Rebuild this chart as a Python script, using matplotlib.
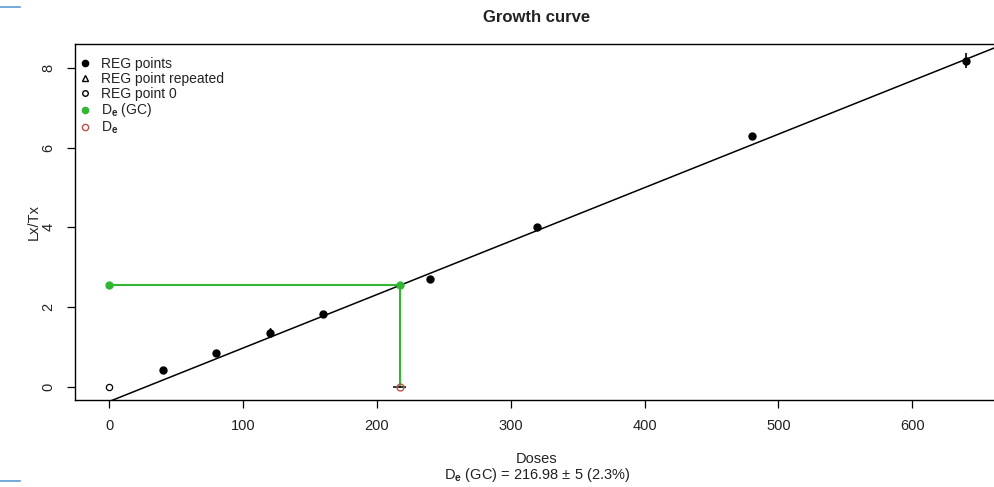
import matplotlib
matplotlib.use("Agg")
import matplotlib.pyplot as plt
from matplotlib.lines import Line2D
import numpy as np

plt.rcParams['font.family'] = ['Liberation Sans', 'DejaVu Sans']
plt.rcParams['mathtext.fontset'] = 'custom'
plt.rcParams['mathtext.rm'] = 'Liberation Sans'
plt.rcParams['mathtext.it'] = 'Liberation Sans:bold'
plt.rcParams['mathtext.bf'] = 'Liberation Sans:bold'

# Data
reg_dose = [40, 80, 120, 160, 240, 320, 480, 640]
reg_lxtx = [0.43, 0.86, 1.35, 1.83, 2.70, 4.00, 6.28, 8.18]
reg_err = [0.0, 0.0, 0.0, 0.0, 0.0, 0.0, 0.10, 0.19]
rep_dose = [120]
rep_lxtx = [1.40]
zero_dose = [0]
zero_lxtx = [0.0]
de_gc = 216.98
de_gc_err = 5
de_lxtx = 2.56
fit_intercept = -0.367
fit_slope = 0.01341

title = "Growth curve"
xlabel = "Doses"
subtitle = r"D$_\mathbf{e}$ (GC) = 216.98 ± 5 (2.3%)"
xticks = [0, 100, 200, 300, 400, 500, 600]
yticks = [0, 2, 4, 6, 8]

W, H = 995, 487
fig = plt.figure(figsize=(W / 100, H / 100), dpi=100)
ax = fig.add_axes([75 / W, (H - 400) / H, (1000 - 75) / W, (400 - 44) / H])
ax.set_xlim(-25.6, 665.6)
ax.set_ylim(-0.33, 8.6)

green = '#33b633'
txtc = '#222222'

# fit line
xx = np.array([-25.6, 665.6])
ax.plot(xx, fit_intercept + fit_slope * xx, color='black', lw=1.1, zorder=2)

# green lines
ax.plot([0, de_gc], [de_lxtx, de_lxtx], color=green, lw=1.5, zorder=3)
ax.plot([de_gc, de_gc], [de_lxtx, 0], color=green, lw=1.5, zorder=3)

# reg points
ax.errorbar(reg_dose, reg_lxtx, yerr=reg_err, fmt='o', color='black',
            ms=5, capsize=0, elinewidth=1.2, zorder=4)
ax.plot(rep_dose, rep_lxtx, marker='^', color='black', ls='none', ms=5, zorder=4)
ax.plot(zero_dose, zero_lxtx, marker='o', mfc='white', mec='black', ls='none',
        ms=4.5, mew=0.9, zorder=4)

# De(GC) points
ax.plot([0, de_gc], [de_lxtx, de_lxtx], marker='o', color=green, ls='none',
        ms=5, zorder=5)
ax.errorbar([de_gc], [0], xerr=[de_gc_err], fmt='o', mfc='none', mec='#c0504d',
            ecolor='black', ms=5, mew=1, elinewidth=1.1, capsize=0, zorder=5)

for s in ax.spines.values():
    s.set_linewidth(1.0)

ax.set_xticks(xticks)
ax.set_yticks(yticks)
ax.tick_params(axis='both', labelsize=10.5, length=6, width=0.9, pad=8,
               colors='black', labelcolor=txtc)
for lbl in ax.get_yticklabels():
    lbl.set_rotation(90)
    lbl.set_va('center')

fig.text(537 / W, 1 - 18 / H, title, ha='center', va='center',
         fontsize=12, fontweight='bold', color=txtc)
fig.text(537 / W, 1 - 459 / H, xlabel, ha='center', va='center',
         fontsize=10.5, color=txtc)
fig.text(537 / W, 1 - 475 / H, subtitle, ha='center', va='center',
         fontsize=10.5, color=txtc)
fig.text(34 / W, 1 - 222 / H, "Lx/Tx", ha='center', va='center',
         rotation=90, fontsize=10.5, color=txtc)

# legend
handles = [
    Line2D([], [], marker='o', color='black', ls='none', ms=4.5),
    Line2D([], [], marker='^', mfc='none', mec='black', ls='none', ms=5),
    Line2D([], [], marker='o', mfc='none', mec='black', ls='none', ms=4),
    Line2D([], [], marker='o', color=green, ls='none', ms=4.5),
    Line2D([], [], marker='o', mfc='none', mec='#c0504d', ls='none', ms=4.5),
]
labels = ["REG points", "REG point repeated", "REG point 0",
          r"D$_\mathbf{e}$ (GC)", r"D$_\mathbf{e}$"]
leg = ax.legend(handles, labels, loc='upper left', frameon=False,
                fontsize=10, handlelength=0.8, handletextpad=0.75,
                labelspacing=0.05, borderaxespad=0.3,
                bbox_to_anchor=(-0.006, 0.99))
for t in leg.get_texts():
    t.set_color(txtc)

# blue screenshot marks
fig.add_artist(Line2D([0, 20 / W], [1 - 7 / H, 1 - 7 / H], color='#5b9bd5', lw=1.2))
fig.add_artist(Line2D([0, 20 / W], [1 - 481 / H, 1 - 481 / H], color='#5b9bd5', lw=1.2))

fig.savefig('out.png', dpi=100)
